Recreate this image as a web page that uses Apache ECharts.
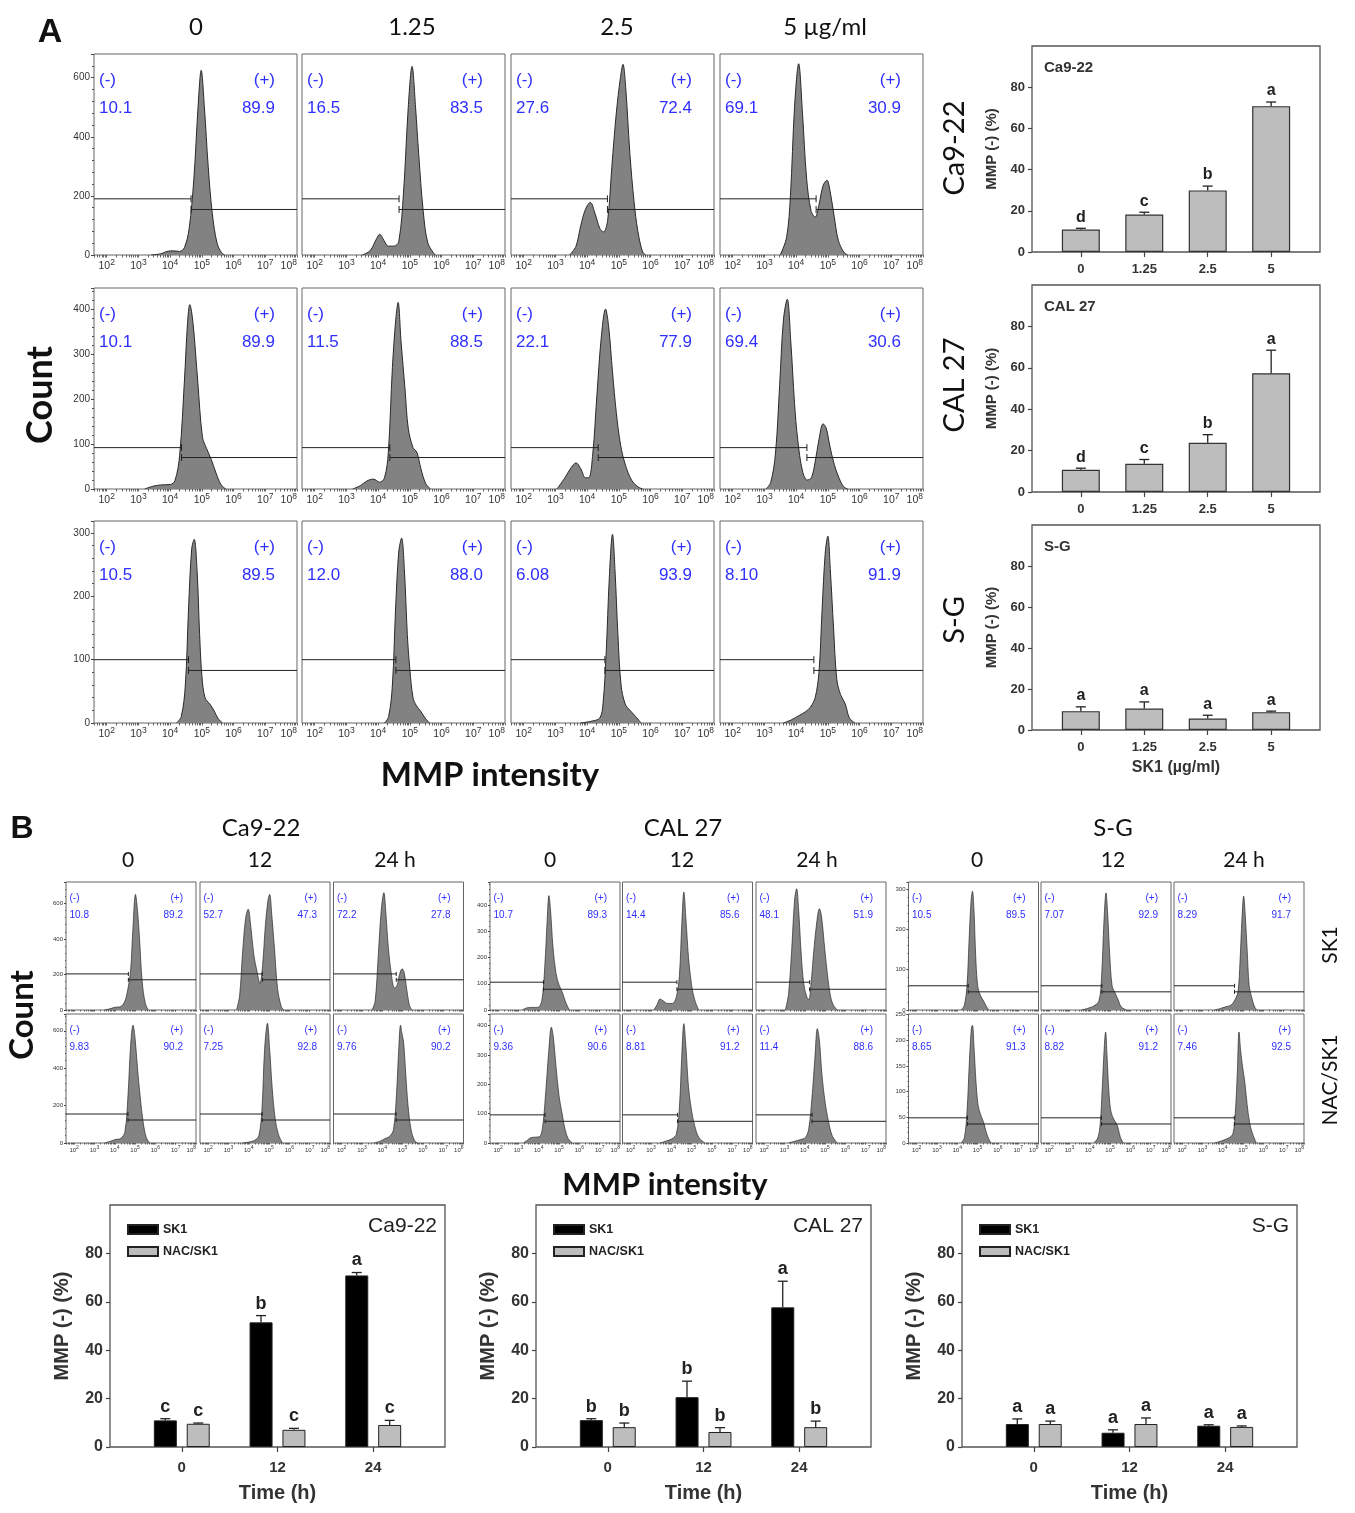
<!DOCTYPE html>
<html>
<head>
<meta charset="utf-8">
<script src="https://cdn.jsdelivr.net/npm/echarts@6.0.0/dist/echarts.min.js"></script>
<style>
  html, body { margin: 0; padding: 0; background: #fff; }
  #main { width: 1355px; height: 1513px; }
</style>
</head>
<body>
<div id="main"></div>
<script>
// ---------- data ----------
var doses = ["0", "1.25", "2.5", "5"];
var hours = ["0", "12", "24"];
var decadeTicks = [2, 3, 4, 5, 6, 7, 8];

// Panel A histograms, points are [log10 MMP intensity, count]
var histA_Ca922 = [
  [[3.4,0],[3.7,4],[3.9,12],[4.1,14],[4.3,12],[4.45,25],[4.6,90],[4.75,260],[4.88,500],[4.98,625],[5.08,500],[5.2,300],[5.33,140],[5.48,40],[5.62,8],[5.72,0]],
  [[3.5,0],[3.75,15],[3.95,55],[4.05,70],[4.18,50],[4.32,30],[4.5,30],[4.65,45],[4.8,210],[4.95,500],[5.07,638],[5.18,500],[5.28,340],[5.42,150],[5.57,40],[5.8,0]],
  [[3.45,0],[3.65,30],[3.8,100],[3.95,155],[4.1,178],[4.25,140],[4.4,90],[4.52,78],[4.65,120],[4.78,300],[4.92,480],[5.05,600],[5.13,645],[5.22,560],[5.35,340],[5.48,180],[5.6,80],[5.75,10],[5.85,0]],
  [[3.5,0],[3.7,60],[3.82,200],[3.95,500],[4.08,647],[4.2,480],[4.33,260],[4.47,150],[4.6,128],[4.72,170],[4.85,235],[4.97,253],[5.08,210],[5.2,130],[5.33,50],[5.5,10],[5.62,0]]
];
var histA_CAL27 = [
  [[3.2,0],[3.45,6],[3.7,9],[4.0,10],[4.15,18],[4.3,75],[4.45,240],[4.55,370],[4.62,410],[4.72,370],[4.87,240],[5.02,115],[5.15,90],[5.3,65],[5.45,35],[5.6,10],[5.75,0]],
  [[3.2,0],[3.45,8],[3.65,18],[3.85,22],[4.05,15],[4.2,25],[4.32,80],[4.45,270],[4.56,380],[4.63,415],[4.72,330],[4.85,220],[4.95,135],[5.1,92],[5.22,82],[5.35,45],[5.5,12],[5.65,0]],
  [[3.05,0],[3.3,25],[3.5,48],[3.65,58],[3.8,45],[3.95,25],[4.05,25],[4.18,80],[4.3,200],[4.45,340],[4.58,400],[4.68,360],[4.8,260],[4.92,170],[5.05,100],[5.2,55],[5.4,20],[5.6,5],[5.75,0]],
  [[3.05,0],[3.2,15],[3.35,80],[3.48,230],[3.6,376],[3.72,422],[3.83,330],[3.95,190],[4.05,110],[4.2,40],[4.35,20],[4.48,25],[4.6,60],[4.72,110],[4.85,145],[4.95,135],[5.05,100],[5.2,55],[5.35,25],[5.5,5],[5.62,0]]
];
var histA_SG = [
  [[4.2,0],[4.35,10],[4.48,60],[4.58,180],[4.68,275],[4.76,290],[4.85,240],[4.93,140],[5.0,75],[5.1,40],[5.25,30],[5.38,20],[5.5,8],[5.65,0]],
  [[4.2,0],[4.33,10],[4.45,60],[4.55,180],[4.65,270],[4.74,292],[4.83,240],[4.92,140],[5.0,85],[5.1,40],[5.2,28],[5.35,18],[5.48,8],[5.62,0]],
  [[3.8,0],[4.15,3],[4.4,8],[4.5,30],[4.6,110],[4.7,230],[4.8,298],[4.88,240],[4.97,140],[5.07,60],[5.2,30],[5.35,20],[5.5,12],[5.7,0]],
  [[3.6,0],[3.85,5],[4.1,12],[4.3,18],[4.45,25],[4.6,40],[4.72,80],[4.82,180],[4.92,270],[5.0,295],[5.08,240],[5.18,150],[5.28,70],[5.4,45],[5.55,30],[5.68,8],[5.85,0]]
];
// gates: [gate position (log10), (-) marker level, (+) marker level]
var gateA_Ca922 = [[4.66,190,154],[4.66,190,154],[4.64,190,154],[4.63,190,154]];
var gateA_CAL27 = [[4.36,92,70],[4.37,92,70],[4.35,92,70],[4.34,92,70]];
var gateA_SG = [[4.58,100,83],[4.56,100,83],[4.56,100,83],[4.56,100,83]];
var negA_Ca922 = ["10.1","16.5","27.6","69.1"], posA_Ca922 = ["89.9","83.5","72.4","30.9"];
var negA_CAL27 = ["10.1","11.5","22.1","69.4"], posA_CAL27 = ["89.9","88.5","77.9","30.6"];
var negA_SG = ["10.5","12.0","6.08","8.10"], posA_SG = ["89.5","88.0","93.9","91.9"];

// Panel A bar charts: MMP (-) %
var mmpA_Ca922 = [10.9, 18.2, 29.9, 70.8], errA_Ca922 = [0.6, 1.1, 2.1, 2.0], sigA_Ca922 = ["d","c","b","a"];
var mmpA_CAL27 = [10.7, 13.6, 23.8, 57.4], errA_CAL27 = [0.8, 2.1, 3.9, 11.1], sigA_CAL27 = ["d","c","b","a"];
var mmpA_SG = [9.2, 10.5, 5.6, 8.7], errA_SG = [2.1, 3.2, 1.6, 0.5], sigA_SG = ["a","a","a","a"];

// Panel B histograms (0, 12, 24 h)
var histB_Ca922_SK1 = [
  [[3.5,0],[3.8,8],[4.0,15],[4.3,20],[4.5,50],[4.65,120],[4.78,220],[4.9,470],[5.02,650],[5.12,560],[5.22,400],[5.35,160],[5.5,40],[5.65,0]],
  [[3.4,0],[3.55,80],[3.7,330],[3.85,520],[3.97,567],[4.1,470],[4.25,310],[4.4,220],[4.55,150],[4.68,250],[4.82,480],[4.95,620],[5.03,650],[5.13,540],[5.27,340],[5.42,120],[5.6,20],[5.72,0]],
  [[3.5,0],[3.65,50],[3.8,300],[3.95,560],[4.08,660],[4.18,540],[4.3,350],[4.45,200],[4.6,125],[4.72,135],[4.85,200],[4.98,232],[5.08,210],[5.2,120],[5.33,30],[5.45,0]]
];
var histB_Ca922_NAC = [
  [[3.5,0],[3.8,10],[4.0,18],[4.3,25],[4.5,60],[4.65,250],[4.78,520],[4.9,630],[5.0,560],[5.12,400],[5.25,250],[5.4,110],[5.55,30],[5.72,0]],
  [[3.7,0],[4.0,5],[4.3,15],[4.5,40],[4.65,180],[4.78,500],[4.92,640],[5.03,500],[5.15,300],[5.3,130],[5.45,50],[5.65,0]],
  [[3.6,0],[3.9,10],[4.1,22],[4.35,35],[4.55,70],[4.7,260],[4.82,520],[4.9,630],[4.96,590],[5.05,540],[5.15,380],[5.27,200],[5.42,70],[5.58,15],[5.72,0]]
];
var histB_CAL27_SK1 = [
  [[3.2,0],[3.4,8],[3.7,10],[3.95,10],[4.15,35],[4.3,170],[4.42,350],[4.5,436],[4.58,380],[4.7,240],[4.85,140],[5.0,95],[5.15,70],[5.3,35],[5.5,0]],
  [[3.15,0],[3.3,20],[3.45,42],[3.6,35],[3.8,25],[4.05,25],[4.25,50],[4.4,130],[4.52,330],[4.62,449],[4.72,350],[4.85,200],[5.0,95],[5.15,40],[5.35,0]],
  [[3.05,0],[3.2,60],[3.35,220],[3.5,420],[3.6,462],[3.7,380],[3.82,220],[3.95,100],[4.1,50],[4.2,40],[4.32,110],[4.45,230],[4.6,340],[4.72,386],[4.82,360],[4.95,260],[5.08,160],[5.25,60],[5.4,20],[5.6,0]]
];
var histB_CAL27_NAC = [
  [[3.25,0],[3.45,10],[3.6,18],[3.85,20],[4.05,22],[4.2,60],[4.35,180],[4.5,320],[4.62,395],[4.72,360],[4.85,260],[5.0,160],[5.15,100],[5.3,45],[5.45,15],[5.65,0]],
  [[3.45,0],[3.8,8],[4.05,15],[4.25,30],[4.4,120],[4.52,300],[4.62,407],[4.72,330],[4.85,190],[5.0,110],[5.15,60],[5.35,20],[5.65,0]],
  [[3.2,0],[3.5,6],[3.8,12],[4.05,20],[4.2,50],[4.35,150],[4.5,290],[4.62,390],[4.72,350],[4.85,230],[5.0,140],[5.15,80],[5.35,25],[5.6,0]]
];
var histB_SG_SK1 = [
  [[4.2,0],[4.35,12],[4.48,60],[4.58,170],[4.68,270],[4.75,294],[4.82,250],[4.92,120],[5.02,55],[5.15,35],[5.3,22],[5.42,10],[5.55,0]],
  [[3.6,0],[3.95,5],[4.2,10],[4.45,22],[4.58,80],[4.7,220],[4.8,290],[4.88,240],[4.98,140],[5.1,60],[5.25,42],[5.4,25],[5.55,8],[5.8,0]],
  [[3.6,0],[3.9,4],[4.15,8],[4.4,12],[4.6,25],[4.75,45],[4.85,120],[4.95,230],[5.03,282],[5.1,240],[5.2,150],[5.3,60],[5.42,32],[5.55,10],[5.67,0]]
];
var histB_SG_NAC = [
  [[4.2,0],[4.35,10],[4.48,60],[4.6,160],[4.7,225],[4.75,229],[4.82,190],[4.92,120],[5.02,75],[5.15,55],[5.3,40],[5.45,18],[5.65,0]],
  [[4.2,0],[4.4,10],[4.52,40],[4.62,110],[4.72,190],[4.78,216],[4.85,170],[4.95,95],[5.05,60],[5.2,45],[5.35,35],[5.5,12],[5.65,0]],
  [[3.6,0],[4.0,5],[4.3,10],[4.5,18],[4.62,60],[4.72,140],[4.8,216],[4.88,180],[4.97,150],[5.08,120],[5.2,75],[5.32,40],[5.45,20],[5.65,0]]
];
var gateB_Ca922_SK1 = [[4.67,203,170],[4.67,203,170],[4.69,203,170]];
var gateB_Ca922_NAC = [[4.65,155,123],[4.66,155,123],[4.68,155,123]];
var gateB_CAL27_SK1 = [[4.23,106,79],[4.28,106,79],[4.24,106,79]];
var gateB_CAL27_NAC = [[4.31,96,74],[4.31,96,74],[4.36,96,74]];
var gateB_SG_SK1 = [[4.54,60,45],[4.6,60,45],[4.58,60,45]];
var gateB_SG_NAC = [[4.5,49,37],[4.58,49,37],[4.57,49,37]];
var negB_Ca922_SK1 = ["10.8","52.7","72.2"], posB_Ca922_SK1 = ["89.2","47.3","27.8"];
var negB_Ca922_NAC = ["9.83","7.25","9.76"], posB_Ca922_NAC = ["90.2","92.8","90.2"];
var negB_CAL27_SK1 = ["10.7","14.4","48.1"], posB_CAL27_SK1 = ["89.3","85.6","51.9"];
var negB_CAL27_NAC = ["9.36","8.81","11.4"], posB_CAL27_NAC = ["90.6","91.2","88.6"];
var negB_SG_SK1 = ["10.5","7.07","8.29"], posB_SG_SK1 = ["89.5","92.9","91.7"];
var negB_SG_NAC = ["8.65","8.82","7.46"], posB_SG_NAC = ["91.3","91.2","92.5"];

// Panel B bar charts
var sk1_Ca922 = [11.0, 51.5, 70.9], sk1Err_Ca922 = [0.7, 2.8, 1.2], sk1Sig_Ca922 = ["c","b","a"];
var nac_Ca922 = [9.6, 7.1, 9.1], nacErr_Ca922 = [0.3, 0.6, 1.9], nacSig_Ca922 = ["c","c","c"];
var sk1_CAL27 = [11.1, 20.6, 57.7], sk1Err_CAL27 = [0.6, 6.6, 10.8], sk1Sig_CAL27 = ["b","b","a"];
var nac_CAL27 = [8.2, 6.2, 8.2], nacErr_CAL27 = [1.7, 1.8, 2.5], nacSig_CAL27 = ["b","b","b"];
var sk1_SG = [9.5, 5.9, 8.8], sk1Err_SG = [2.1, 1.2, 0.4], sk1Sig_SG = ["a","a","a"];
var nac_SG = [9.5, 9.5, 8.3], nacErr_SG = [1.2, 2.5, 0.4], nacSig_SG = ["a","a","a"];

// ---------- layout ----------
var ARIAL = "'Liberation Sans', Arial, sans-serif";
var HEAD = "Lato, 'Open Sans', sans-serif";
var BLUE = "#2f2fff";
var LOG_MIN = 1.6, LOG_MAX = 8;

// log-decade tick marks (major + minor)
var xTickVals = [];
for (var d = 1; d <= 7; d++) {
  for (var k = 1; k <= 9; k++) {
    var t = d + Math.log10(k);
    if (t >= LOG_MIN && t <= LOG_MAX) xTickVals.push(t);
  }
}
xTickVals.push(8);

var grids = [], xAxes = [], yAxes = [], series = [], graphics = [], legends = [];

function txt(x, y, s, font, extra) {
  var el = {
    type: "text", x: x, y: y, silent: true,
    style: { text: s, font: font, fill: "#111", align: "center", verticalAlign: "middle" }
  };
  if (extra) {
    if (extra.rotation) el.rotation = extra.rotation;
    if (extra.align) el.style.align = extra.align;
    if (extra.fill) el.style.fill = extra.fill;
  }
  graphics.push(el);
}

function gateRenderer(cap) {
  return function (params, api) {
    var gx = api.value(0), yn = api.value(1), yp = api.value(2);
    var a = api.coord([LOG_MIN, yn]), b = api.coord([gx, yn]);
    var c = api.coord([gx, yp]), e = api.coord([LOG_MAX, yp]);
    var st = { stroke: "#222", lineWidth: 1 };
    return {
      type: "group",
      children: [
        { type: "line", shape: { x1: a[0], y1: a[1], x2: b[0], y2: b[1] }, style: st },
        { type: "line", shape: { x1: b[0], y1: b[1] - cap, x2: b[0], y2: b[1] + cap }, style: st },
        { type: "line", shape: { x1: c[0], y1: c[1], x2: e[0], y2: e[1] }, style: st },
        { type: "line", shape: { x1: c[0], y1: c[1] - cap, x2: c[0], y2: c[1] + cap }, style: st }
      ]
    };
  };
}

function addHist(left, top, w, h, ymax, yint, showY, showX, pts, gate, neg, pos, small) {
  var gi = grids.length;
  grids.push({ left: left, top: top, width: w, height: h, show: true, borderColor: "#666", borderWidth: 1 });
  xAxes.push({
    gridIndex: gi, type: "value", min: LOG_MIN, max: LOG_MAX,
    axisLine: { show: false, onZero: false }, splitLine: { show: false },
    axisTick: { show: true, customValues: xTickVals, length: small ? 1.5 : 2.5, lineStyle: { color: "#444", width: 0.8 } },
    axisLabel: {
      show: showX, customValues: decadeTicks, alignMaxLabel: "right",
      formatter: function (v) { return "10{s|" + v + "}"; },
      fontSize: small ? 6 : 10.5, color: "#333", fontFamily: ARIAL, margin: small ? 2 : 3,
      rich: { s: { fontSize: small ? 5 : 8.5, fontFamily: ARIAL, color: "#333", verticalAlign: "bottom", padding: [0, 0, small ? 5 : 8, 0] } }
    }
  });
  yAxes.push({
    gridIndex: gi, type: "value", min: 0, max: ymax, interval: yint,
    axisLine: { show: false, onZero: false }, splitLine: { show: false },
    axisTick: { show: showY, length: small ? 2 : 3, lineStyle: { color: "#444" } },
    minorTick: { show: showY, splitNumber: 5, length: small ? 1 : 2, lineStyle: { color: "#555" } },
    axisLabel: { show: showY, showMaxLabel: false, fontSize: small ? 6 : 10, color: "#333", fontFamily: ARIAL, margin: small ? 3 : 4 }
  });
  series.push({
    type: "line", xAxisIndex: gi, yAxisIndex: gi, data: pts, smooth: 0.35, symbol: "none", silent: true,
    lineStyle: { color: "#2a2a2a", width: small ? 0.7 : 1 },
    areaStyle: { color: "#828282", opacity: 1 }
  });
  series.push({
    type: "custom", xAxisIndex: gi, yAxisIndex: gi, data: [gate], z: 5, silent: true,
    renderItem: gateRenderer(small ? 2 : 3.5)
  });
  var f1 = small ? "10px " + ARIAL : "17px " + ARIAL;
  var dxL = small ? 3.5 : 5, dxR = small ? 117 : 181;
  var dy1 = small ? 16 : 26.5, dy2 = small ? 33.5 : 54;
  txt(left + dxL, top + dy1, "(-)", f1, { align: "left", fill: BLUE });
  txt(left + dxL, top + dy2, neg, f1, { align: "left", fill: BLUE });
  txt(left + dxR, top + dy1, "(+)", f1, { align: "right", fill: BLUE });
  txt(left + dxR, top + dy2, pos, f1, { align: "right", fill: BLUE });
}

function errRenderer(sigs, dx, cap, font, gap) {
  return function (params, api) {
    var p0 = api.coord([api.value(0), api.value(1)]);
    var p1 = api.coord([api.value(0), api.value(2)]);
    var cx = p0[0] + dx;
    var st = { stroke: "#222", lineWidth: 1.3 };
    return {
      type: "group",
      children: [
        { type: "line", shape: { x1: cx, y1: p0[1], x2: cx, y2: p1[1] }, style: st },
        { type: "line", shape: { x1: cx - cap, y1: p1[1], x2: cx + cap, y2: p1[1] }, style: st },
        { type: "text", x: cx, y: p1[1] - gap, style: { text: sigs[params.dataIndex], font: font, fill: "#222", align: "center", verticalAlign: "bottom" } }
      ]
    };
  };
}

function zipErr(means, errs) {
  return means.map(function (m, i) { return [i, m, m + errs[i]]; });
}

function addBarA(left, top, w, h, title, means, errs, sigs, showName) {
  var gi = grids.length;
  grids.push({ left: left, top: top, width: w, height: h, show: true, borderColor: "#555", borderWidth: 1.3 });
  xAxes.push({
    gridIndex: gi, type: "value", min: -0.77, max: 3.77,
    axisLine: { show: false, onZero: false }, splitLine: { show: false },
    axisTick: { show: true, customValues: [0, 1, 2, 3], length: 5, lineStyle: { color: "#444", width: 1.2 } },
    axisLabel: {
      customValues: [0, 1, 2, 3], formatter: function (v) { return doses[v]; },
      fontSize: 13, fontWeight: "bold", color: "#333", fontFamily: ARIAL, margin: 11
    },
    name: showName ? "SK1 (\u00b5g/ml)" : "", nameLocation: "middle", nameGap: 30,
    nameTextStyle: { fontSize: 16, fontWeight: "bold", color: "#333", fontFamily: ARIAL }
  });
  yAxes.push({
    gridIndex: gi, type: "value", min: 0, max: 100, interval: 20,
    axisLine: { show: false, onZero: false }, splitLine: { show: false },
    axisTick: { show: true, length: 4, lineStyle: { color: "#444", width: 1.2 } },
    axisLabel: { showMaxLabel: false, fontSize: 13, fontWeight: "bold", color: "#333", fontFamily: ARIAL, margin: 7 },
    name: "MMP (-) (%)", nameLocation: "middle", nameGap: 33,
    nameTextStyle: { fontSize: 15, fontWeight: "bold", color: "#333", fontFamily: ARIAL }
  });
  series.push({
    type: "bar", xAxisIndex: gi, yAxisIndex: gi, barWidth: 38, silent: true,
    data: means.map(function (m, i) { return [i, m]; }),
    itemStyle: { color: "#bdbdbd", borderColor: "#333", borderWidth: 1.2 }
  });
  series.push({
    type: "custom", xAxisIndex: gi, yAxisIndex: gi, z: 5, silent: true, data: zipErr(means, errs),
    renderItem: errRenderer(sigs, 0, 5, "bold 16px " + ARIAL, 3)
  });
  txt(left + 12, top + 22, title, "bold 15px " + ARIAL, { align: "left", fill: "#333" });
}

function addBarB(left, top, w, h, title, sk1, sk1Err, sk1Sig, nac, nacErr, nacSig) {
  var gi = grids.length;
  grids.push({ left: left, top: top, width: w, height: h, show: true, borderColor: "#555", borderWidth: 1.3 });
  xAxes.push({
    gridIndex: gi, type: "value", min: -0.75, max: 2.75,
    axisLine: { show: false, onZero: false }, splitLine: { show: false },
    axisTick: { show: true, customValues: [0, 1, 2], length: 5, lineStyle: { color: "#444", width: 1.2 } },
    axisLabel: {
      customValues: [0, 1, 2], formatter: function (v) { return hours[v]; },
      fontSize: 15, fontWeight: "bold", color: "#333", fontFamily: ARIAL, margin: 13
    },
    name: "Time (h)", nameLocation: "middle", nameGap: 36,
    nameTextStyle: { fontSize: 20, fontWeight: "bold", color: "#333", fontFamily: ARIAL }
  });
  yAxes.push({
    gridIndex: gi, type: "value", min: 0, max: 100, interval: 20,
    axisLine: { show: false, onZero: false }, splitLine: { show: false },
    axisTick: { show: true, length: 4, lineStyle: { color: "#444", width: 1.2 } },
    axisLabel: { showMaxLabel: false, fontSize: 16, fontWeight: "bold", color: "#333", fontFamily: ARIAL, margin: 7 },
    name: "MMP (-) (%)", nameLocation: "middle", nameGap: 38,
    nameTextStyle: { fontSize: 20, fontWeight: "bold", color: "#333", fontFamily: ARIAL }
  });
  series.push({
    name: "SK1", type: "bar", xAxisIndex: gi, yAxisIndex: gi, barWidth: 23, barGap: "43%", silent: true,
    data: sk1.map(function (m, i) { return [i, m]; }),
    itemStyle: { color: "#000", borderColor: "#222", borderWidth: 1 }
  });
  series.push({
    name: "NAC/SK1", type: "bar", xAxisIndex: gi, yAxisIndex: gi, barWidth: 23, barGap: "43%", silent: true,
    data: nac.map(function (m, i) { return [i, m]; }),
    itemStyle: { color: "#bdbdbd", borderColor: "#222", borderWidth: 1 }
  });
  series.push({
    type: "custom", xAxisIndex: gi, yAxisIndex: gi, z: 5, silent: true, data: zipErr(sk1, sk1Err),
    renderItem: errRenderer(sk1Sig, -16.5, 5, "bold 18px " + ARIAL, 3)
  });
  series.push({
    type: "custom", xAxisIndex: gi, yAxisIndex: gi, z: 5, silent: true, data: zipErr(nac, nacErr),
    renderItem: errRenderer(nacSig, 16.5, 5, "bold 18px " + ARIAL, 3)
  });
  legends.push({
    left: left + 12, top: top + 13, orient: "vertical", itemWidth: 30, itemHeight: 9, itemGap: 9,
    icon: "rect", selectedMode: false, data: ["SK1", "NAC/SK1"],
    textStyle: { fontSize: 12.5, fontWeight: "bold", color: "#222", fontFamily: ARIAL }
  });
  txt(left + w - 8, top + 21, title, "21px " + ARIAL, { align: "right", fill: "#222" });
}

// ---------- panel A ----------
var colA = [94, 302, 511, 720], wA = 203;
var rowsA = [
  { top: 54, h: 201, max: 680, step: 200, hist: histA_Ca922, gate: gateA_Ca922, neg: negA_Ca922, pos: posA_Ca922 },
  { top: 288, h: 201, max: 447, step: 100, hist: histA_CAL27, gate: gateA_CAL27, neg: negA_CAL27, pos: posA_CAL27 },
  { top: 521, h: 202, max: 319, step: 100, hist: histA_SG, gate: gateA_SG, neg: negA_SG, pos: posA_SG }
];
rowsA.forEach(function (r) {
  for (var c = 0; c < 4; c++) {
    addHist(colA[c], r.top, wA, r.h, r.max, r.step, c === 0, true, r.hist[c], r.gate[c], r.neg[c], r.pos[c], false);
  }
});
addBarA(1032, 46, 288, 206, "Ca9-22", mmpA_Ca922, errA_Ca922, sigA_Ca922, false);
addBarA(1032, 285, 288, 207, "CAL 27", mmpA_CAL27, errA_CAL27, sigA_CAL27, false);
addBarA(1032, 525, 288, 205, "S-G", mmpA_SG, errA_SG, sigA_SG, true);

txt(50, 33, "A", "bold 34px " + ARIAL);
txt(196, 27, "0", "24px " + HEAD);
txt(412, 27, "1.25", "24px " + HEAD);
txt(617, 27, "2.5", "24px " + HEAD);
txt(825, 27, "5 \u00b5g/ml", "24px " + HEAD);
txt(40, 395, "Count", "bold 36px " + HEAD, { rotation: Math.PI / 2 });
txt(490, 775, "MMP intensity", "bold 33px " + HEAD);
txt(955, 148, "Ca9-22", "29px " + HEAD, { rotation: Math.PI / 2 });
txt(955, 385, "CAL 27", "29px " + HEAD, { rotation: Math.PI / 2 });
txt(955, 620, "S-G", "29px " + HEAD, { rotation: Math.PI / 2 });

// ---------- panel B ----------
var groupsB = [
  { lefts: [66, 200, 333.5], max: [720, 690], step: [200, 200],
    hist: [histB_Ca922_SK1, histB_Ca922_NAC], gate: [gateB_Ca922_SK1, gateB_Ca922_NAC],
    neg: [negB_Ca922_SK1, negB_Ca922_NAC], pos: [posB_Ca922_SK1, posB_Ca922_NAC] },
  { lefts: [490, 622.5, 756], max: [488, 440], step: [100, 100],
    hist: [histB_CAL27_SK1, histB_CAL27_NAC], gate: [gateB_CAL27_SK1, gateB_CAL27_NAC],
    neg: [negB_CAL27_SK1, negB_CAL27_NAC], pos: [posB_CAL27_SK1, posB_CAL27_NAC] },
  { lefts: [908.5, 1041, 1174], max: [317, 251], step: [100, 50],
    hist: [histB_SG_SK1, histB_SG_NAC], gate: [gateB_SG_SK1, gateB_SG_NAC],
    neg: [negB_SG_SK1, negB_SG_NAC], pos: [posB_SG_SK1, posB_SG_NAC] }
];
var rowsB = [{ top: 882, h: 128 }, { top: 1014, h: 129 }];
groupsB.forEach(function (g) {
  for (var r = 0; r < 2; r++) {
    for (var c = 0; c < 3; c++) {
      addHist(g.lefts[c], rowsB[r].top, 130, rowsB[r].h, g.max[r], g.step[r], c === 0, r === 1,
        g.hist[r][c], g.gate[r][c], g.neg[r][c], g.pos[r][c], true);
    }
  }
});
addBarB(110, 1205, 335, 242, "Ca9-22", sk1_Ca922, sk1Err_Ca922, sk1Sig_Ca922, nac_Ca922, nacErr_Ca922, nacSig_Ca922);
addBarB(536, 1205, 335, 242, "CAL 27", sk1_CAL27, sk1Err_CAL27, sk1Sig_CAL27, nac_CAL27, nacErr_CAL27, nacSig_CAL27);
addBarB(962, 1205, 335, 242, "S-G", sk1_SG, sk1Err_SG, sk1Sig_SG, nac_SG, nacErr_SG, nacSig_SG);

txt(22, 829, "B", "bold 32px " + ARIAL);
txt(261, 828, "Ca9-22", "24px " + HEAD);
txt(683, 828, "CAL 27", "24px " + HEAD);
txt(1113, 828, "S-G", "24px " + HEAD);
var subX = [128, 260, 395, 550, 682, 817, 977, 1113, 1244];
var subT = ["0", "12", "24 h", "0", "12", "24 h", "0", "12", "24 h"];
subX.forEach(function (x, i) { txt(x, 860, subT[i], "21px " + HEAD); });
txt(1330, 945, "SK1", "21px " + HEAD, { rotation: Math.PI / 2 });
txt(1330, 1080, "NAC/SK1", "21px " + HEAD, { rotation: Math.PI / 2 });
txt(22, 1015, "Count", "bold 33px " + HEAD, { rotation: Math.PI / 2 });
txt(665, 1185, "MMP intensity", "bold 31px " + HEAD);

var myChart = echarts.init(document.getElementById("main"));
myChart.setOption({
  animation: false,
  backgroundColor: "#fff",
  textStyle: { fontFamily: ARIAL },
  grid: grids,
  xAxis: xAxes,
  yAxis: yAxes,
  legend: legends,
  series: series,
  graphic: graphics
});
</script>
</body>
</html>
